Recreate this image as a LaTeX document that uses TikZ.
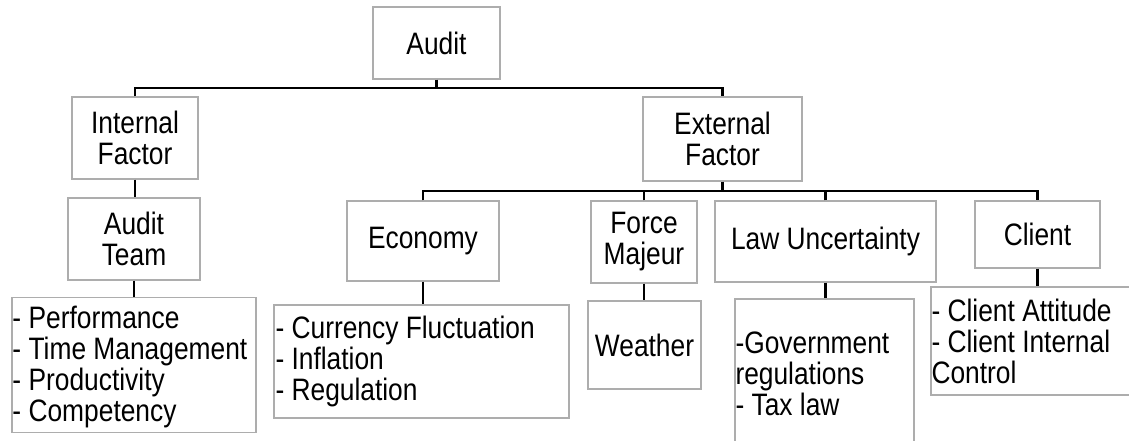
\documentclass[tikz,border=0pt]{standalone}
\usepackage{fontspec}
\setmainfont[FakeStretch=0.85]{Liberation Sans}
\begin{document}
\begin{tikzpicture}[x=1pt,y=-1pt,
  txt/.style={font=\fontsize{31}{31}\selectfont},
  bx/.style={txt, draw=black!32, line width=1.4pt, fill=white, inner sep=1pt, align=center},
  lbox/.style={draw=black!32, line width=1.4pt, fill=white, inner sep=0pt},
  ltxt/.style={txt, align=left, anchor=west, inner sep=1pt},
  conn/.style={draw=black, line width=2.4pt}]
\useasboundingbox (0,0) rectangle (1129,440);
\clip (0,0) rectangle (1129,440);
% top level
\node[bx, minimum width=127pt, minimum height=72pt] (audit) at (436.5,43) {Audit};
\node[bx, minimum width=126pt, minimum height=82pt] (internal) at (135,138) {Internal\\Factor};
\node[bx, minimum width=159pt, minimum height=84pt] (external) at (722.5,139) {External\\Factor};
% internal branch
\node[bx, minimum width=132pt, minimum height=82pt] (team) at (134,239) {Audit\\Team};
\node[lbox, minimum width=244pt, minimum height=135pt] (teamlist) at (134,365) {};
\node[ltxt] (teamlistT) at ([yshift=-2pt]teamlist.west)
  {- Performance\\- Time Management\\- Productivity\\- Competency};
% external branch
\node[bx, minimum width=152pt, minimum height=80pt] (economy) at (423,241) {Economy};
\node[lbox, minimum width=295pt, minimum height=113pt] (econlist) at (421.5,361.5) {};
\node[ltxt] (econlistT) at ([xshift=1pt]econlist.west)
  {- Currency Fluctuation\\- Inflation\\- Regulation};
\node[bx, minimum width=106pt, minimum height=82pt] (force) at (644,242) {Force\\Majeur};
\node[bx, minimum width=113pt, minimum height=88pt] (weather) at (644.5,345) {Weather};
\node[bx, minimum width=221pt, minimum height=81pt] (law) at (825.5,241.5) {Law Uncertainty};
\node[lbox, minimum width=179pt, minimum height=146pt] (lawlist) at (824.5,372) {};
\node[ltxt] (lawlistT) at ([yshift=-2pt]lawlist.west)
  {-Government\\regulations\\- Tax law};
\node[bx, minimum width=125pt, minimum height=67pt] (client) at (1037.5,234.5) {Client};
\node[lbox, minimum width=204pt, minimum height=108pt] (clientlist) at (1033,341) {};
\node[ltxt] (clientlistT) at (clientlist.west)
  {- Client Attitude\\- Client Internal\\Control};
% connectors
\draw[conn] (audit.south) -- ++(0,8) coordinate (bus1);
\draw[conn] (internal.north) |- (bus1) -| (external.north);
\draw[conn] (external.south) -- ++(0,9) coordinate (bus2);
\draw[conn] (economy.north) |- (bus2) -| (client.north);
\draw[conn] (force.north) -- (force.north |- bus2);
\draw[conn] (law.north) -- (law.north |- bus2);
\draw[conn] (internal.south) -- (internal.south |- team.north);
\draw[conn] (team.south) -- (team.south |- teamlist.north);
\draw[conn] (economy.south) -- (economy.south |- econlist.north);
\draw[conn] (force.south) -- (force.south |- weather.north);
\draw[conn] (law.south) -- (law.south |- lawlist.north);
\draw[conn] (client.south) -- (client.south |- clientlist.north);
\end{tikzpicture}
\end{document}
